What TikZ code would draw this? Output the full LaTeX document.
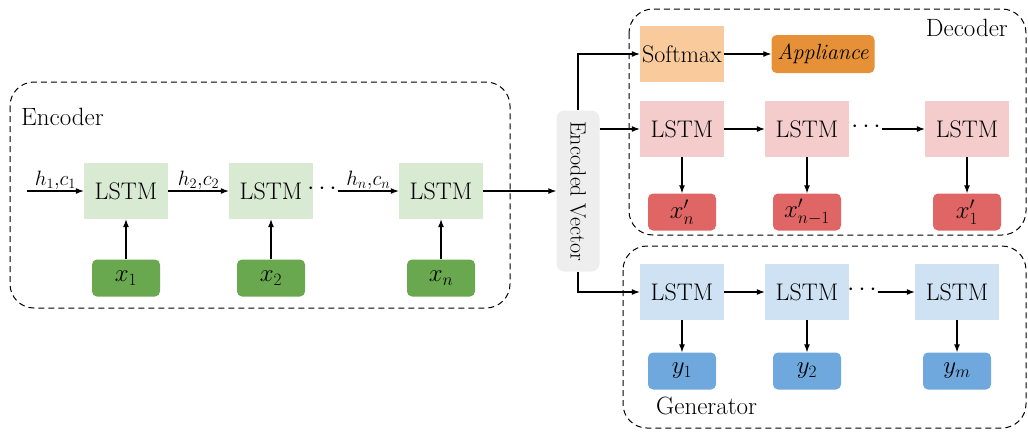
\documentclass[tikz,border=0pt]{standalone}
\usetikzlibrary{arrows.meta}

\definecolor{encgreen}{HTML}{D9EAD3}
\definecolor{ingreen}{HTML}{6AA84F}
\definecolor{softorange}{HTML}{F9CB9C}
\definecolor{appliorange}{HTML}{E69138}
\definecolor{decpink}{HTML}{F4CCCC}
\definecolor{outred}{HTML}{E06666}
\definecolor{genblue}{HTML}{CFE2F3}
\definecolor{outblue}{HTML}{6FA8DC}
\definecolor{vecgrey}{HTML}{EEEEEE}

\tikzset{
	lstm/.style={minimum width=84pt, minimum height=56pt, inner sep=0pt, font=\fontsize{24}{28}\selectfont},
	outbox/.style={rounded corners=5pt, minimum width=68pt, minimum height=37pt, inner sep=0pt, font=\fontsize{24}{28}\selectfont},
	group/.style={dash pattern=on 6pt off 4pt, rounded corners=24pt, line width=1pt},
	arr/.style={-{Latex[length=8pt,width=6pt]}, line width=1.1pt},
	hlabel/.style={font=\fontsize{21}{24}\selectfont, inner sep=1pt},
	dots/.style={inner sep=1pt, font=\fontsize{24}{28}\selectfont},
	grouplabel/.style={font=\fontsize{25}{28}\selectfont, inner sep=0pt}
}

\begin{document}
\begin{tikzpicture}[x=1pt, y=-1pt]
		\useasboundingbox (0,0) rectangle (1028,432);
		
		% encoder
		\draw[group] (10,82) rectangle (510,308);
		\node[grouplabel, anchor=west] (ENC) at (21,117) {Encoder};
		
		\coordinate (IN) at (27,191);
		\node[lstm, fill=encgreen] (E1) at (126,191) {LSTM};
		\node[lstm, fill=encgreen] (E2) at (271,191) {LSTM};
		\node[dots] (ED) at (322,189) {$\cdots$};
		\node[lstm, fill=encgreen] (E3) at (441,191) {LSTM};
		
		\node[outbox, fill=ingreen] (X1) at (126,278) {$x_1$};
		\node[outbox, fill=ingreen] (X2) at (271,278) {$x_2$};
		\node[outbox, fill=ingreen] (X3) at (441,278) {$x_n$};
		
		\draw[arr] (IN) -- node[hlabel, above] {$h_1{,}c_1$} (E1);
		\draw[arr] (E1) -- node[hlabel, above] {$h_2{,}c_2$} (E2);
		\draw[arr] (ED.east |- E3) -- node[hlabel, above] {$h_n{,}c_n$} (E3);
		\draw[arr] (X1) -- (E1);
		\draw[arr] (X2) -- (E2);
		\draw[arr] (X3) -- (E3);
		
		% encoded vector (rotated: west is the top, east the bottom)
		\node[rotate=-90, fill=vecgrey, rounded corners=8pt, minimum width=161pt, minimum height=43pt, inner sep=0pt, font=\fontsize{22}{26}\selectfont] (EV) at (578,191) {Encoded Vector};
		\draw[arr] (E3) -- (EV.south);
		
		% decoder
		\draw[group] (629,9) rectangle (1026,235);
		\node[grouplabel, anchor=east] (DEC) at (1008,28) {Decoder};
		
		\node[lstm, fill=softorange] (SM) at (682,54) {Softmax};
		\node[outbox, fill=appliorange, minimum width=103pt, minimum height=38pt, font=\fontsize{22}{26}\selectfont] (AP) at (823,54) {\itshape Appliance};
		
		\node[lstm, fill=decpink] (D1) at (682,129) {LSTM};
		\node[lstm, fill=decpink] (D2) at (807,129) {LSTM};
		\node[dots] (DD) at (866,127) {$\cdots$};
		\node[lstm, fill=decpink] (D3) at (967,129) {LSTM};
		
		\node[outbox, fill=outred] (O1) at (682,212) {$x'_n$};
		\node[outbox, fill=outred] (O2) at (807,212) {$x'_{n-1}$};
		\node[outbox, fill=outred] (O3) at (967,212) {$x'_1$};
		
		\draw[arr] (EV.west) |- (SM);
		\draw[arr] (SM) -- (AP);
		\draw[arr] (EV.north |- D1.west) -- (D1.west);
		\draw[arr] (D1) -- (D2);
		\draw[arr] (DD.east |- D3) -- (D3);
		\draw[arr] (D1) -- (O1);
		\draw[arr] (D2) -- (O2);
		\draw[arr] (D3) -- (O3);
		
		% generator
		\draw[group] (623,246) rectangle (1026,428);
		\node[grouplabel, anchor=west] (GEN) at (656,406) {Generator};
		
		\node[lstm, fill=genblue] (G1) at (682,292) {LSTM};
		\node[lstm, fill=genblue] (G2) at (807,292) {LSTM};
		\node[dots] (GD) at (862,290) {$\cdots$};
		\node[lstm, fill=genblue] (G3) at (957,292) {LSTM};
		
		\node[outbox, fill=outblue] (Y1) at (682,371) {$y_1$};
		\node[outbox, fill=outblue] (Y2) at (807,371) {$y_2$};
		\node[outbox, fill=outblue] (Y3) at (957,371) {$y_m$};
		
		\draw[arr] (EV.east) |- (G1);
		\draw[arr] (G1) -- (G2);
		\draw[arr] (GD.east |- G3) -- (G3);
		\draw[arr] (G1) -- (Y1);
		\draw[arr] (G2) -- (Y2);
		\draw[arr] (G3) -- (Y3);
	\end{tikzpicture}
\end{document}
